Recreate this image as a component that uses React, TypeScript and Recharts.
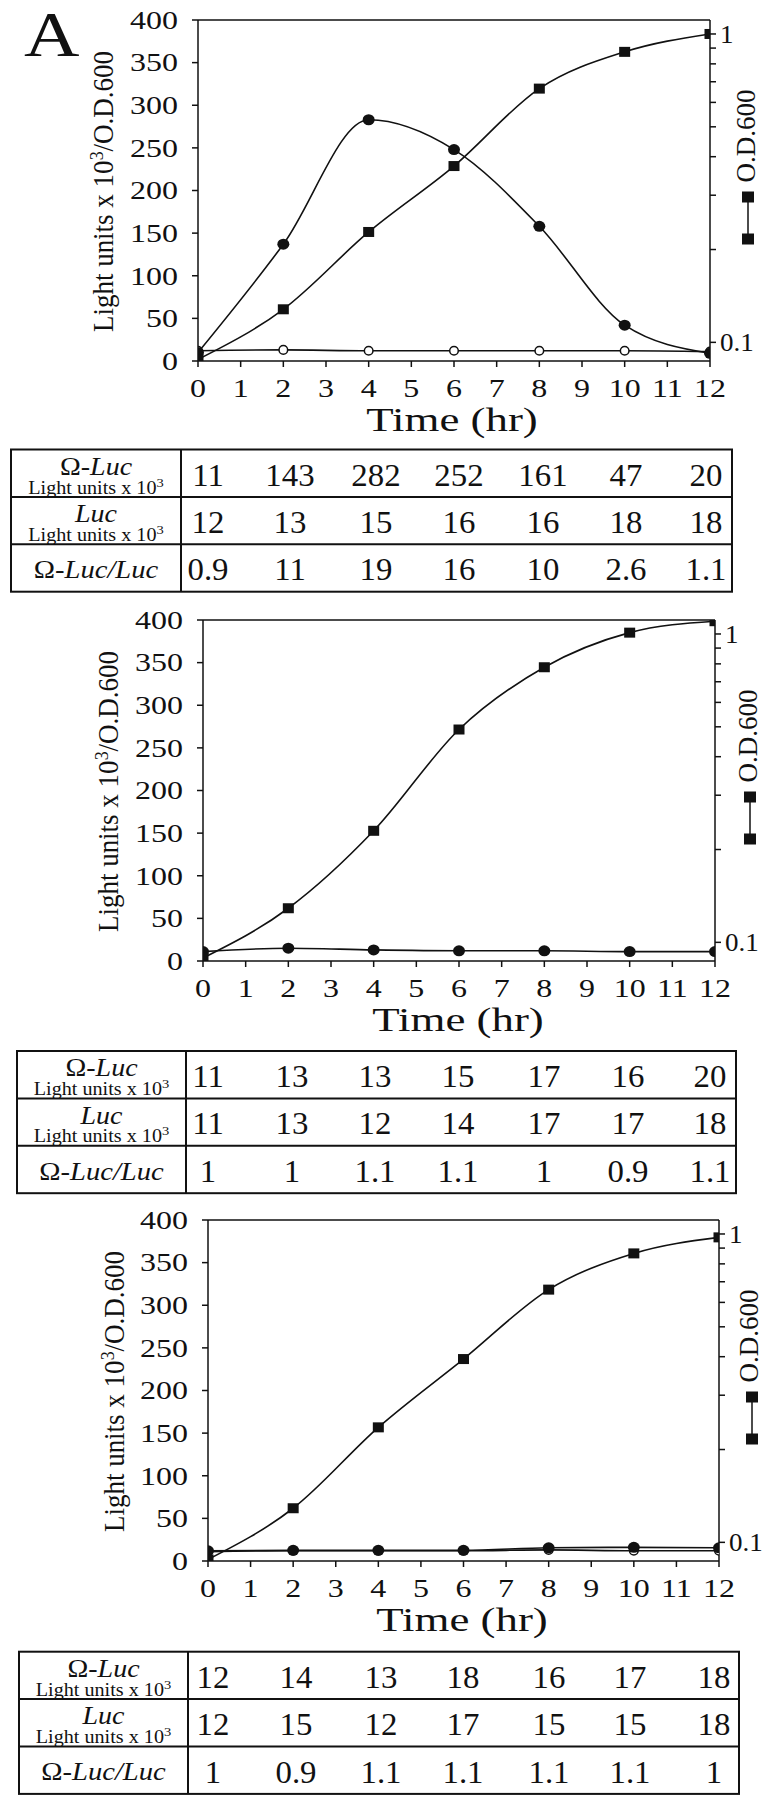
import React from 'react';
import { ComposedChart, Line, XAxis, YAxis, ReferenceLine } from 'recharts';

// ---------- data ----------
const HOURS = [0, 2, 4, 6, 8, 10, 12];
const X_TICKS = [0, 1, 2, 3, 4, 5, 6, 7, 8, 9, 10, 11, 12];
const LEFT_TICKS = [0, 50, 100, 150, 200, 250, 300, 350, 400];
const OD_TICKS = [0.1, 0.2, 0.3, 0.4, 0.5, 0.6, 0.7, 0.8, 0.9, 1];
const OD_LABELS = ['0.1', '1'];

// panel 1
const P1_OD = [0.088, 0.128, 0.228, 0.373, 0.665, 0.875, 1.0];
const P1_OMEGA_LUC = [10, 137, 283, 248, 158, 42, 9];
const P1_LUC = [12, 13, 12, 12, 12, 12, 11];
// panel 2
const P2_OD = [0.089, 0.129, 0.23, 0.49, 0.78, 1.01, 1.1];
const P2_OMEGA_LUC = [11, 15, 13, 12, 12, 11, 11];
// panel 3
const P3_OD = [0.088, 0.129, 0.236, 0.393, 0.66, 0.865, 0.975];
const P3_OMEGA_LUC = [12, 12.5, 12.5, 12.5, 15.5, 16, 15.5];
const P3_LUC = [11, 12, 12, 12, 13, 12, 12];

// tables
const T1_OMEGA = ['11', '143', '282', '252', '161', '47', '20'];
const T1_LUC = ['12', '13', '15', '16', '16', '18', '18'];
const T1_RATIO = ['0.9', '11', '19', '16', '10', '2.6', '1.1'];
const T2_OMEGA = ['11', '13', '13', '15', '17', '16', '20'];
const T2_LUC = ['11', '13', '12', '14', '17', '17', '18'];
const T2_RATIO = ['1', '1', '1.1', '1.1', '1', '0.9', '1.1'];
const T3_OMEGA = ['12', '14', '13', '18', '16', '17', '18'];
const T3_LUC = ['12', '15', '12', '17', '15', '15', '18'];
const T3_RATIO = ['1', '0.9', '1.1', '1.1', '1.1', '1.1', '1'];

// ---------- style ----------
const FONT = '"Liberation Serif", "Times New Roman", Times, serif';
const INK = '#111';
const OD_DOMAIN: [number, number] = [0.087, 1.11];
const TICK_FS = 25;
const TICK_SX = 1.28;
const RIGHT_SX = 1.08;

// horizontally stretched text (the scanned figure is wider than plain Times)
function SText({ x, y, sx = 1, anchor = 'middle', fs, italic, dy, children }: any) {
  return (
    <text
      transform={`translate(${x}, ${y}) scale(${sx}, 1)`}
      x={0}
      y={0}
      dy={dy}
      textAnchor={anchor}
      fontSize={fs}
      fontFamily={FONT}
      fontStyle={italic ? 'italic' : undefined}
      fill={INK}
    >
      {children}
    </text>
  );
}

const XTick = (props: any) => {
  const { x, y, payload } = props;
  return (
    <g>
      <SText x={x} y={y} sx={TICK_SX} anchor="middle" fs={TICK_FS} dy="0.71em">
        {String(payload.value)}
      </SText>
    </g>
  );
};
const LeftTick = (props: any) => {
  const { x, y, payload } = props;
  return (
    <g>
      <SText x={x} y={y} sx={TICK_SX} anchor="end" fs={TICK_FS} dy="0.35em">
        {String(payload.value)}
      </SText>
    </g>
  );
};
const RightTick = (props: any) => {
  const { x, y, payload } = props;
  const s = String(payload.value);
  if (!OD_LABELS.includes(s)) return <g />;
  return (
    <g>
      <SText x={x} y={y} sx={RIGHT_SX} anchor="start" fs={TICK_FS} dy="0.35em">
        {s}
      </SText>
    </g>
  );
};

const renderSquare = (props: any) => {
  const { cx, cy, index } = props;
  if (cx == null || cy == null) return <g key={`sq${index}`} />;
  return <rect key={`sq${index}`} x={cx - 5.5} y={cy - 5} width={11} height={10} fill={INK} />;
};
const renderFilled = (props: any) => {
  const { cx, cy, index } = props;
  if (cx == null || cy == null) return <g key={`fc${index}`} />;
  return <ellipse key={`fc${index}`} cx={cx} cy={cy} rx={6} ry={5.5} fill={INK} />;
};
const renderOpen = (props: any) => {
  const { cx, cy, index } = props;
  if (cx == null || cy == null) return <g key={`oc${index}`} />;
  return <circle key={`oc${index}`} cx={cx} cy={cy} r={4.3} fill="#fff" stroke={INK} strokeWidth={1.5} />;
};

type Plot = { left: number; right: number; top: number; bottom: number };

function Panel({ od, omega, luc, plot }: { od: number[]; omega: number[]; luc?: number[]; plot: Plot }) {
  const chartTop = plot.top - 20;
  const xAxisH = 60;
  const height = plot.bottom - chartTop + xAxisH;
  const rows = HOURS.map((t, i) => ({
    t,
    od: od[i],
    omega: omega[i],
    luc: luc ? luc[i] : null,
  }));
  const axisStyle = { stroke: INK, strokeWidth: 1.5 };
  return (
    <div style={{ position: 'absolute', left: 0, top: chartTop, fontFamily: FONT }}>
      <ComposedChart width={766} height={height} data={rows} margin={{ top: 20, right: 0, bottom: 0, left: 0 }}>
        <XAxis
          dataKey="t"
          type="number"
          domain={[0, 12]}
          ticks={X_TICKS}
          interval={0}
          height={xAxisH}
          tickSize={6}
          tickMargin={12}
          axisLine={axisStyle}
          tickLine={axisStyle}
          tick={XTick}
          allowDataOverflow
        />
        <YAxis
          yAxisId="lum"
          orientation="left"
          width={plot.left}
          type="number"
          domain={[0, 400]}
          ticks={LEFT_TICKS}
          interval={0}
          tickSize={6}
          tickMargin={14}
          axisLine={axisStyle}
          tickLine={axisStyle}
          tick={LeftTick}
          allowDataOverflow
        />
        <YAxis
          yAxisId="od"
          orientation="right"
          width={766 - plot.right}
          type="number"
          scale="log"
          domain={OD_DOMAIN}
          ticks={OD_TICKS}
          interval={0}
          tickSize={6}
          tickMargin={4}
          axisLine={axisStyle}
          tickLine={axisStyle}
          tick={RightTick}
          allowDataOverflow
        />
        <ReferenceLine yAxisId="lum" y={400} stroke={INK} strokeWidth={1.5} />
        {luc && (
          <Line
            yAxisId="lum"
            dataKey="luc"
            type="monotone"
            stroke={INK}
            strokeWidth={1.6}
            dot={renderOpen}
            isAnimationActive={false}
          />
        )}
        <Line
          yAxisId="lum"
          dataKey="omega"
          type="monotone"
          stroke={INK}
          strokeWidth={1.6}
          dot={renderFilled}
          isAnimationActive={false}
        />
        <Line
          yAxisId="od"
          dataKey="od"
          type="monotone"
          stroke={INK}
          strokeWidth={1.6}
          dot={renderSquare}
          isAnimationActive={false}
        />
      </ComposedChart>
    </div>
  );
}

function PanelText({ plot, yTitleX, odX, legendX, timeX }: { plot: Plot; yTitleX: number; odX: number; legendX: number; timeX: number }) {
  const cy = (plot.top + plot.bottom) / 2 + 1;
  const odCy = plot.top + 116;
  const sq1 = plot.top + 177;
  const sq2 = plot.top + 219;
  return (
    <g fontFamily={FONT} fill={INK}>
      <text transform={`translate(${yTitleX}, ${cy}) rotate(-90) scale(1, 1.1)`} textAnchor="middle" fontSize={27} fontFamily={FONT}>
        Light units x 10<tspan dy={-9} fontSize={18}>3</tspan>
        <tspan dy={9}>/O.D.600</tspan>
      </text>
      <text transform={`translate(${odX}, ${odCy}) rotate(-90) scale(1, 1.05)`} textAnchor="middle" fontSize={27} fontFamily={FONT}>
        O.D.600
      </text>
      <line x1={legendX} x2={legendX} y1={sq1} y2={sq2} stroke={INK} strokeWidth={1.5} />
      <rect x={legendX - 6} y={sq1 - 5.5} width={12} height={11} fill={INK} />
      <rect x={legendX - 6} y={sq2 - 5.5} width={12} height={11} fill={INK} />
      <SText x={timeX} y={plot.bottom + 70} sx={1.32} anchor="middle" fs={34}>
        Time (hr)
      </SText>
    </g>
  );
}

function Table({ x0, x1, div, y0, omega, luc, ratio, cols }: { x0: number; x1: number; div: number; y0: number; omega: string[]; luc: string[]; ratio: string[]; cols: number[] }) {
  const rowH = 47.4;
  const tx = (x0 + div) / 2;
  const rowsVals = [omega, luc, ratio];
  const sub = (
    <>
      Light units x 10<tspan dy={-7} fontSize={13}>3</tspan>
    </>
  );
  return (
    <g fontFamily={FONT} fill={INK}>
      <rect x={x0} y={y0} width={x1 - x0} height={rowH * 3} fill="none" stroke={INK} strokeWidth={2} />
      <line x1={x0} x2={x1} y1={y0 + rowH} y2={y0 + rowH} stroke={INK} strokeWidth={2} />
      <line x1={x0} x2={x1} y1={y0 + rowH * 2} y2={y0 + rowH * 2} stroke={INK} strokeWidth={2} />
      <line x1={div} x2={div} y1={y0} y2={y0 + rowH * 3} stroke={INK} strokeWidth={2} />
      <SText x={tx} y={y0 + 25} sx={1.12} fs={25}>
        Ω-<tspan fontStyle="italic">Luc</tspan>
      </SText>
      <SText x={tx} y={y0 + 44} sx={1.12} fs={18}>
        {sub}
      </SText>
      <SText x={tx} y={y0 + 72.5} sx={1.12} fs={25} italic>
        Luc
      </SText>
      <SText x={tx} y={y0 + 91} sx={1.12} fs={18}>
        {sub}
      </SText>
      <SText x={tx} y={y0 + 128.5} sx={1.1} fs={26}>
        Ω-<tspan fontStyle="italic">Luc/Luc</tspan>
      </SText>
      {rowsVals.map((vals, r) =>
        vals.map((v, i) => (
          <SText key={`${r}-${i}`} x={cols[i]} y={y0 + 36 + r * 47.4} sx={1.06} fs={31}>
            {v}
          </SText>
        ))
      )}
    </g>
  );
}

const PLOT1: Plot = { left: 198, right: 710, top: 20, bottom: 361 };
const PLOT2: Plot = { left: 203, right: 715, top: 620, bottom: 961 };
const PLOT3: Plot = { left: 208, right: 719, top: 1220, bottom: 1561 };

export default function App() {
  return (
    <div style={{ position: 'absolute', left: 0, top: 0, width: 766, height: 1800, background: '#fff', overflow: 'hidden', fontFamily: FONT }}>
      <Panel od={P1_OD} omega={P1_OMEGA_LUC} luc={P1_LUC} plot={PLOT1} />
      <Panel od={P2_OD} omega={P2_OMEGA_LUC} plot={PLOT2} />
      <Panel od={P3_OD} omega={P3_OMEGA_LUC} luc={P3_LUC} plot={PLOT3} />
      <svg width={766} height={1800} style={{ position: 'absolute', left: 0, top: 0, pointerEvents: 'none' }}>
        <SText x={24} y={56} sx={1.2} anchor="start" fs={64}>A</SText>
        <PanelText plot={PLOT1} yTitleX={113} odX={755} legendX={748} timeX={452} />
        <PanelText plot={PLOT2} yTitleX={118} odX={757} legendX={750} timeX={458} />
        <PanelText plot={PLOT3} yTitleX={124} odX={758} legendX={752} timeX={462} />
        <Table x0={11} x1={732} div={181} y0={449.5} omega={T1_OMEGA} luc={T1_LUC} ratio={T1_RATIO} cols={[208, 290, 376, 459, 543, 626, 706]} />
        <Table x0={17} x1={736} div={186} y0={1051} omega={T2_OMEGA} luc={T2_LUC} ratio={T2_RATIO} cols={[208, 292, 375, 458, 544, 628, 710]} />
        <Table x0={19} x1={739} div={188} y0={1651.7} omega={T3_OMEGA} luc={T3_LUC} ratio={T3_RATIO} cols={[213, 296, 381, 463, 549, 630, 714]} />
      </svg>
    </div>
  );
}
